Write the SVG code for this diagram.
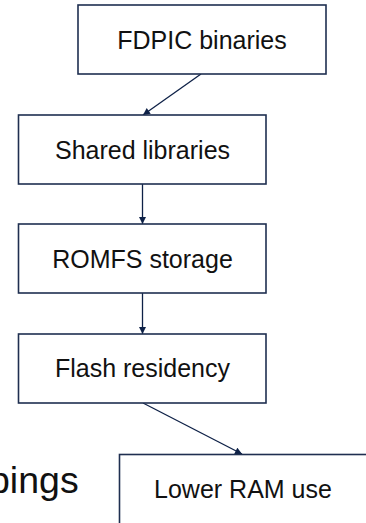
<svg xmlns="http://www.w3.org/2000/svg" width="366" height="523" viewBox="0 0 366 523">
<style>
.box{fill:#fff;stroke:#1f2f50;stroke-width:1.6}
.lbl{font-family:"Liberation Sans",Arial,sans-serif;font-size:25px;fill:#111;text-anchor:middle}
.edge{stroke:#0e2147;stroke-width:1.3;fill:none;marker-end:url(#ah)}
.big{font-family:"Liberation Sans",Arial,sans-serif;font-size:37.5px;fill:#111}
</style>
<defs>
<marker id="ah" viewBox="0 0 10 10" refX="10" refY="5" markerWidth="8" markerHeight="7" markerUnits="userSpaceOnUse" orient="auto">
<path d="M0,0 L10,5 L0,10 z" fill="#0e2147"/>
</marker>
</defs>
<rect width="366" height="523" fill="#fff"/>
<text class="big" x="-11" y="493">pings</text>
<g id="edges">
<line class="edge" x1="201" y1="74" x2="143" y2="115"/>
<line class="edge" x1="142.5" y1="184" x2="142.5" y2="224"/>
<line class="edge" x1="142.5" y1="293" x2="142.5" y2="334"/>
<line class="edge" x1="143" y1="403" x2="242" y2="454"/>
</g>
<g id="n1"><rect class="box" x="78" y="5" width="248" height="69"/><text class="lbl" x="202" y="49">FDPIC binaries</text></g>
<g id="n2"><rect class="box" x="18.5" y="115" width="247.5" height="69"/><text class="lbl" x="142.5" y="159">Shared libraries</text></g>
<g id="n3"><rect class="box" x="18.5" y="224" width="247.5" height="69"/><text class="lbl" x="142.5" y="268">ROMFS storage</text></g>
<g id="n4"><rect class="box" x="18.5" y="334" width="247.5" height="69"/><text class="lbl" x="142.5" y="377">Flash residency</text></g>
<g id="n5"><rect class="box" x="119.5" y="454.5" width="249" height="72"/><text class="lbl" x="243" y="498">Lower RAM use</text></g>
</svg>
